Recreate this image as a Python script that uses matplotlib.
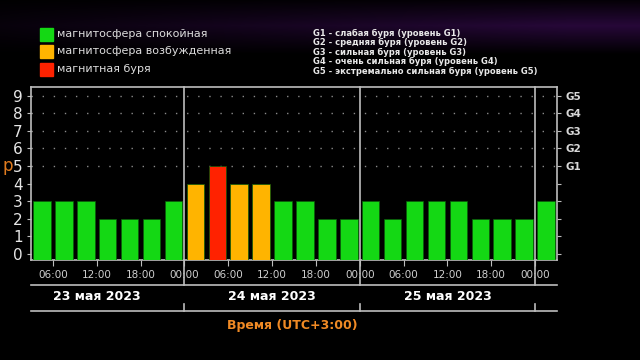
import numpy as np
import matplotlib.pyplot as plt
from matplotlib.transforms import blended_transform_factory

# Kp index, 3-hour intervals, starting 23 May 03:00 (UTC+3)
kp = [3, 3, 3, 2, 2, 2, 3,
      4, 5, 4, 4, 3, 3, 2, 2,
      3, 2, 3, 3, 3, 2, 2, 2,
      3]
start_hour = 3
day_labels = ['23 мая 2023', '24 мая 2023', '25 мая 2023']
tick_hours = [6, 12, 18, 24, 30, 36, 42, 48, 54, 60, 66, 72]
tick_labels = ['06:00', '12:00', '18:00', '00:00'] * 3
g_levels = [5, 6, 7, 8, 9]
g_labels = ['G1', 'G2', 'G3', 'G4', 'G5']
legend_items = ['магнитосфера спокойная', 'магнитосфера возбужденная', 'магнитная буря']
g_texts = ['G1 - слабая буря (уровень G1)',
           'G2 - средняя буря (уровень G2)',
           'G3 - сильная буря (уровень G3)',
           'G4 - очень сильная буря (уровень G4)',
           'G5 - экстремально сильная буря (уровень G5)']

GREEN = '#14d814'
ORANGE = '#ffb400'
RED = '#ff2200'
GREY = '#bdbdbd'


def kp_color(v):
    if v >= 5:
        return RED
    if v == 4:
        return ORANGE
    return GREEN


fig = plt.figure(figsize=(6.4, 3.6), dpi=100)
fig.patch.set_facecolor('black')

# faint purple haze at the top
bg = fig.add_axes([0, 0, 1, 1], zorder=-10)
yy = np.linspace(0, 1, 360)[:, None]
xx = np.linspace(0, 1, 640)[None, :]
glow = np.clip(1 - np.abs(yy - 0.07) / 0.08, 0, 1) * np.clip(0.2 + 0.9 * xx, 0, 1)
img = np.zeros((360, 640, 3))
img[..., 0] = 0.15 * glow
img[..., 1] = 0.03 * glow
img[..., 2] = 0.22 * glow
bg.imshow(img, aspect='auto', extent=[0, 1, 0, 1], origin='upper')
bg.axis('off')

ax = fig.add_axes([31 / 640, 1 - 260 / 360, 526 / 640, 173 / 360])
ax.set_facecolor('black')
ymin, ymax = -0.35, 9.5
ax.set_xlim(start_hour, start_hour + 3 * len(kp))
ax.set_ylim(ymin, ymax)

x = [start_hour + 1.5 + 3 * i for i in range(len(kp))]
colors = [kp_color(v) for v in kp]
ax.bar(x, [v - ymin for v in kp], bottom=ymin, width=2.4, color=colors,
       edgecolor='#0a5a0a', linewidth=0.5, zorder=3)

# dotted grid at storm levels
for lv in g_levels:
    ax.axhline(lv, color='#8a8a8a', lw=1.0, linestyle=(0, (1, 7)), zorder=1)

for s in ax.spines.values():
    s.set_color(GREY)
    s.set_linewidth(1.2)

ax.set_yticks(range(10))
ax.set_yticklabels([str(i) for i in range(10)], fontsize=11)
ax.tick_params(axis='y', colors=GREY, labelcolor='#e6e6e6', length=3, pad=3)
ax.set_xticks(tick_hours)
ax.set_xticklabels(tick_labels, fontsize=7.5)
ax.tick_params(axis='x', colors=GREY, labelcolor='#cfcfcf', length=4, pad=3)

ax2 = ax.twinx()
ax2.set_ylim(ymin, ymax)
ax2.set_yticks(range(10))
ax2.set_yticklabels(['' if i < 5 else g_labels[i - 5] for i in range(10)],
                    fontsize=7.5, fontweight='bold')
ax2.tick_params(axis='y', colors=GREY, labelcolor='#d8d8d8', length=3, pad=3)
for s in ax2.spines.values():
    s.set_visible(False)

trans = blended_transform_factory(ax.transData, ax.transAxes)
x0, x1 = ax.get_xlim()
y_up = -25 / 173
y_low = -51 / 173
for d in [24, 48, 72]:
    ax.plot([d, d], [1, y_up], color=GREY, lw=1.2, transform=trans,
            clip_on=False, zorder=4)
    ax.plot([d, d], [y_low, y_low + 7 / 173], color=GREY, lw=1.2,
            transform=trans, clip_on=False)
ax.plot([x0, x1], [y_up, y_up], color=GREY, lw=1.2, transform=trans, clip_on=False)
ax.plot([x0, x1], [y_low, y_low], color=GREY, lw=1.2, transform=trans, clip_on=False)

# each date centred on its full day
for i, lab in enumerate(day_labels):
    ax.text(24 * i + 12, -37 / 173, lab, transform=trans, ha='center', va='center',
            color='white', fontsize=9, fontweight='bold')

fig.text(292 / 640, 1 - 326 / 360, 'Время (UTC+3:00)', ha='center', va='center',
         color='#f08a24', fontsize=9, fontweight='bold')
# only the tail of the "Kp" label is visible in the source
fig.text(2 / 640, 1 - 166 / 360, 'p', ha='left', va='center',
         color='#e07b1e', fontsize=12)

# legend (top left)
legend_colors = [GREEN, ORANGE, RED]
for i, (lab, c) in enumerate(zip(legend_items, legend_colors)):
    yc = 1 - (34 + 17.5 * i) / 360
    fig.patches.append(plt.Rectangle((40 / 640, yc - 6.5 / 360), 13 / 640, 13 / 360,
                                     transform=fig.transFigure, color=c))
    fig.text(57 / 640, yc, lab, ha='left', va='center', color='#dcdcdc', fontsize=8)

# G-scale legend (top right)
for i, t in enumerate(g_texts):
    fig.text(313 / 640, 1 - (33 + 9.5 * i) / 360, t, ha='left', va='center',
             color='#e8e8e8', fontsize=6, fontweight='bold')

fig.savefig('out.png', dpi=100, facecolor=fig.get_facecolor())
